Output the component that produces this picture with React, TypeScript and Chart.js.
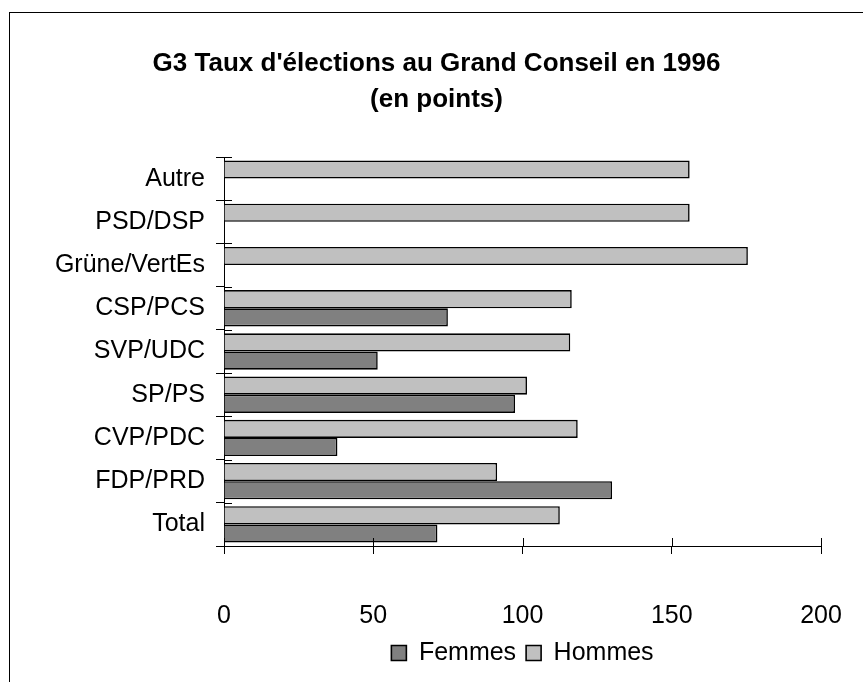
import React, { useEffect, useRef } from "react";
import { Chart, registerables } from "chart.js";

Chart.register(...registerables);

const titleLines = ["G3 Taux d'élections au Grand Conseil en 1996", "(en points)"];
const categories = ["Autre", "PSD/DSP", "Grüne/VertEs", "CSP/PCS", "SVP/UDC", "SP/PS", "CVP/PDC", "FDP/PRD", "Total"];
const hommes = [156, 156, 175.5, 116.5, 116, 101.5, 118.5, 91.5, 112.5];
const femmes = [null, null, null, 75, 51.5, 97.5, 38, 130, 71.5];
const xMin = 0;
const xMax = 200;
const xStep = 50;

const FONT = "'Liberation Sans', Arial, Helvetica, sans-serif";

const innerTicks = {
  id: "innerTicks",
  afterDatasetsDraw(chart: any) {
    const { ctx, scales } = chart;
    const x = scales.x;
    const y = scales.y;
    ctx.save();
    ctx.strokeStyle = "#000";
    ctx.lineWidth = 1;
    ctx.beginPath();
    x.ticks.forEach((_: any, i: number) => {
      const px = Math.round(x.getPixelForTick(i)) + 0.5;
      ctx.moveTo(px, x.top - 8);
      ctx.lineTo(px, x.top);
    });
    for (let i = 0; i <= categories.length; i++) {
      const py = Math.round(y.getPixelForValue(i - 0.5)) + 0.5;
      ctx.moveTo(y.right, py);
      ctx.lineTo(y.right + 8, py);
    }
    ctx.stroke();
    ctx.restore();
  },
};

export default function App() {
  const ref = useRef<HTMLCanvasElement | null>(null);

  useEffect(() => {
    if (!ref.current) return;
    Chart.defaults.font.family = FONT;
    Chart.defaults.color = "#000";
    const chart = new Chart(ref.current, {
      type: "bar",
      data: {
        labels: categories,
        datasets: [
          {
            label: "Hommes",
            data: hommes,
            backgroundColor: "#C0C0C0",
            borderColor: "#000",
            borderWidth: 1.6,
          },
          {
            label: "Femmes",
            data: femmes,
            backgroundColor: "#808080",
            borderColor: "#000",
            borderWidth: 1.6,
          },
        ],
      },
      options: {
        indexAxis: "y",
        animation: false,
        responsive: false,
        devicePixelRatio: 1,
        layout: { padding: { left: 42, right: 42, top: 0, bottom: 6.5 } },
        datasets: {
          bar: { categoryPercentage: 0.84, barPercentage: 1.0 },
        },
        plugins: {
          title: {
            display: true,
            text: titleLines,
            color: "#000",
            font: { size: 26, weight: "bold", lineHeight: 36 / 26, family: FONT },
            padding: { top: 33, bottom: 39 },
          },
          legend: {
            display: true,
            position: "bottom",
            fullSize: false,
            reverse: true,
            labels: {
              boxWidth: 15,
              boxHeight: 15,
              padding: 10,
              color: "#000",
              font: { size: 25, family: FONT },
            },
          },
          tooltip: { enabled: false },
        },
        scales: {
          x: {
            type: "linear",
            min: xMin,
            max: xMax,
            afterFit: (scale: any) => {
              scale.height = 84.5;
              scale.paddingLeft = 0;
              scale.paddingRight = 0;
            },
            ticks: { stepSize: xStep, padding: 47, color: "#000", font: { size: 25, family: FONT } },
            grid: { drawOnChartArea: false, drawTicks: true, tickLength: 8, color: "#000" },
            border: { display: true, color: "#000", width: 1 },
          },
          y: {
            type: "category",
            afterFit: (scale: any) => {
              scale.width = 172;
              scale.paddingTop = 0;
              scale.paddingBottom = 0;
            },
            ticks: { padding: 11, color: "#000", font: { size: 25, family: FONT } },
            grid: { drawOnChartArea: false, drawTicks: true, tickLength: 8, color: "#000", offset: true },
            border: { display: true, color: "#000", width: 1 },
          },
        },
      },
      plugins: [innerTicks],
    });
    return () => chart.destroy();
  }, []);

  return (
    <div
      style={{
        position: "absolute",
        left: 9,
        top: 12,
        width: 854,
        height: 670,
        boxSizing: "border-box",
        borderLeft: "1px solid #000",
        borderTop: "1px solid #000",
        background: "#fff",
      }}
    >
      <canvas ref={ref} width={853} height={669} style={{ display: "block", width: 853, height: 669 }} />
    </div>
  );
}
